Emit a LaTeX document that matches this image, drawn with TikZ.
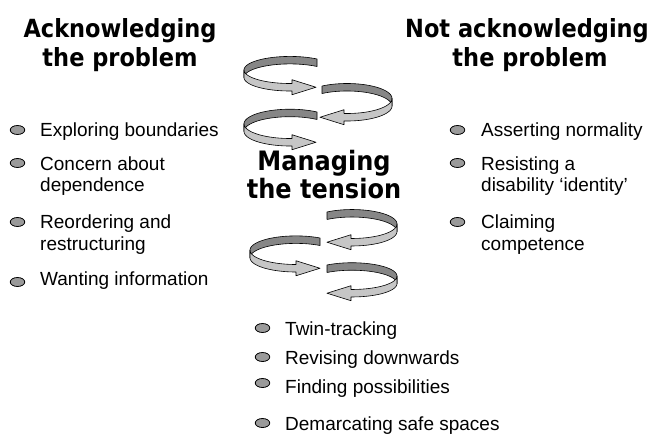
\documentclass[tikz,border=0pt]{standalone}
\usepackage{fontspec}
\setmainfont{Liberation Sans}
\newfontfamily\headfont[FakeStretch=0.9]{DejaVu Sans}
\usetikzlibrary{shapes.geometric}
\definecolor{ribdark}{HTML}{868686}
\definecolor{riblight}{HTML}{C6C6C6}
\definecolor{bulgray}{HTML}{9A9A9A}
\def\bandh{7.5}
\newcommand\myribbon[8]{%
 \pgfmathsetmacro\rxe{#1+#3*cos(#7)}%
 \pgfmathsetmacro\rye{#2-#4*sin(#7)}%
 \pgfmathsetmacro\rym{\rye+\bandh/2}%
 \filldraw[ribback] plot[domain=#5:#6,samples=50] ({#1+#3*cos(\x)},{#2-#4*sin(\x)}) -- plot[domain=#6:#5,samples=50] ({#1+#3*cos(\x)},{#2+\bandh-#4*sin(\x)}) -- cycle;
 \filldraw[ribfront] plot[domain=#6:#7,samples=50] ({#1+#3*cos(\x)},{#2-#4*sin(\x)}) -- ({\rxe},{\rym-7.5}) -- ({\rxe+#8*24},{\rym}) -- ({\rxe},{\rym+7.5}) -- plot[domain=#7:#6,samples=50] ({#1+#3*cos(\x)},{#2+\bandh-#4*sin(\x)}) -- cycle;
}
\tikzset{
 ribback/.style={fill=ribdark,draw=black,line width=0.6pt,line join=round},
 ribfront/.style={fill=riblight,draw=black,line width=0.6pt,line join=round},
 head/.style={font=\headfont\bfseries\fontsize{25}{30}\selectfont,inner sep=0pt,anchor=base},
 midhead/.style={font=\headfont\bfseries\fontsize{26.7}{32}\selectfont,inner sep=0pt,anchor=base},
 item/.style={font=\fontsize{19}{22}\selectfont,inner sep=0pt,anchor=base west},
 bul/.style={ellipse,draw=black,fill=bulgray,line width=0.8pt,minimum width=14.5pt,minimum height=9pt,inner sep=0pt}
}
\begin{document}
\begin{tikzpicture}[x=1pt,y=-1pt]
\useasboundingbox (0,0) rectangle (656,436);
% headings
\node[head] (h1a) at (120,37.3) {Acknowledging};
\node[head] (h1b) at (120,66.7) {the problem};
\node[head] (h2a) at (527,37.3) {Not acknowledging};
\node[head] (h2b) at (530,66.7) {the problem};
\node[midhead] (m1) at (324,170) {Managing};
\node[midhead] (m2) at (324,198.3) {the tension};
% ribbons: cx cy rx ry start turn end dir
\myribbon{290}{69.96}{46}{13.54}{54}{180}{272.5}{1}
\myribbon{347}{98.5}{45}{15.0}{123.7}{0}{-93.8}{-1}
\myribbon{290}{123.85}{46}{14.65}{54}{180}{272.5}{1}
\myribbon{352}{224.0}{45}{14.47}{123.7}{0}{-91.3}{-1}
\myribbon{296}{250.2}{46}{14.3}{58.5}{180}{270}{1}
\myribbon{352}{276.1}{45}{13.37}{123.7}{0}{-91.3}{-1}
% left list
\node[bul] (lb1) at (17.5,130) {};
\node[item] (l1) at (40,136.5) {Exploring boundaries};
\node[bul] (lb2) at (17.5,163) {};
\node[item] (l2a) at (40,170) {Concern about};
\node[item] (l2b) at (40,191.5) {dependence};
\node[bul] (lb3) at (17.5,222) {};
\node[item] (l3a) at (40,228.5) {Reordering and};
\node[item] (l3b) at (40,250) {restructuring};
\node[bul] (lb4) at (17.5,282) {};
\node[item] (l4) at (40,285) {Wanting information};
% right list
\node[bul] (rb1) at (457.5,130) {};
\node[item] (r1) at (481,136.5) {Asserting normality};
\node[bul] (rb2) at (457.5,163) {};
\node[item] (r2a) at (481,170) {Resisting a};
\node[item] (r2b) at (481,191.5) {disability ‘identity’};
\node[bul] (rb3) at (457.5,222) {};
\node[item] (r3a) at (481,228.5) {Claiming};
\node[item] (r3b) at (481,250) {competence};
% bottom list
\node[bul] (bb1) at (262.5,328) {};
\node[item] (b1) at (285,335) {Twin-tracking};
\node[bul] (bb2) at (262.5,357) {};
\node[item] (b2) at (285,364) {Revising downwards};
\node[bul] (bb3) at (262.5,383) {};
\node[item] (b3) at (285,393) {Finding possibilities};
\node[bul] (bb4) at (262.5,423) {};
\node[item] (b4) at (285,430) {Demarcating safe spaces};
\end{tikzpicture}
\end{document}
